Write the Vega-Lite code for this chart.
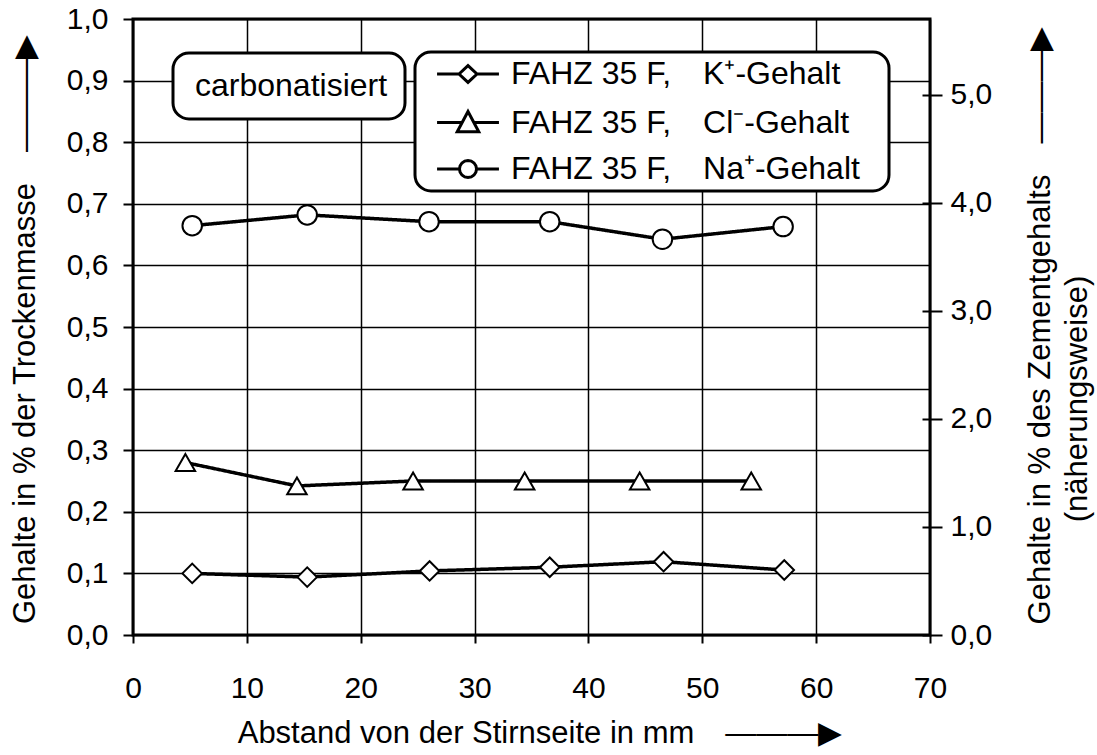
{
  "$schema": "https://vega.github.io/schema/vega-lite/v6.json",
  "width": 797,
  "height": 616,
  "autosize": {"type": "none"},
  "padding": {"left": 133, "top": 19, "right": 167, "bottom": 120},
  "background": "white",
  "config": {
    "font": "Liberation Sans",
    "view": {"stroke": "black", "strokeWidth": 3},
    "axis": {
      "labelFont": "Liberation Sans", "titleFont": "Liberation Sans",
      "labelColor": "black", "titleColor": "black",
      "labelFontSize": 30, "titleFontSize": 31, "titleFontWeight": "normal",
      "tickColor": "black", "tickWidth": 2,
      "gridColor": "black", "gridOpacity": 1, "gridWidth": 1.5,
      "domain": false, "labelFlush": false, "labelOverlap": false
    },
    "legend": {
      "labelFont": "Liberation Sans", "labelFontSize": 32, "labelColor": "black",
      "strokeColor": "black", "strokeWidth": 3, "fillColor": "white", "cornerRadius": 16, "labelLimit": 0
    }
  },
  "data": {
    "values": [
      {"reihe": "K", "zustand": "carbonatisiert", "abstand": 5.2, "wert": 0.100},
      {"reihe": "K", "zustand": "carbonatisiert", "abstand": 15.3, "wert": 0.094},
      {"reihe": "K", "zustand": "carbonatisiert", "abstand": 26.05, "wert": 0.104},
      {"reihe": "K", "zustand": "carbonatisiert", "abstand": 36.6, "wert": 0.110},
      {"reihe": "K", "zustand": "carbonatisiert", "abstand": 46.6, "wert": 0.119},
      {"reihe": "K", "zustand": "carbonatisiert", "abstand": 57.2, "wert": 0.1055},
      {"reihe": "Cl", "zustand": "carbonatisiert", "abstand": 4.6, "wert": 0.280},
      {"reihe": "Cl", "zustand": "carbonatisiert", "abstand": 14.4, "wert": 0.242},
      {"reihe": "Cl", "zustand": "carbonatisiert", "abstand": 24.6, "wert": 0.250},
      {"reihe": "Cl", "zustand": "carbonatisiert", "abstand": 34.4, "wert": 0.250},
      {"reihe": "Cl", "zustand": "carbonatisiert", "abstand": 44.5, "wert": 0.250},
      {"reihe": "Cl", "zustand": "carbonatisiert", "abstand": 54.3, "wert": 0.250},
      {"reihe": "Na", "zustand": "carbonatisiert", "abstand": 5.2, "wert": 0.6645},
      {"reihe": "Na", "zustand": "carbonatisiert", "abstand": 15.3, "wert": 0.682},
      {"reihe": "Na", "zustand": "carbonatisiert", "abstand": 26.0, "wert": 0.671},
      {"reihe": "Na", "zustand": "carbonatisiert", "abstand": 36.6, "wert": 0.671},
      {"reihe": "Na", "zustand": "carbonatisiert", "abstand": 46.5, "wert": 0.6425},
      {"reihe": "Na", "zustand": "carbonatisiert", "abstand": 57.1, "wert": 0.663}
    ]
  },
  "encoding": {
    "x": {
      "field": "abstand", "type": "quantitative",
      "scale": {"domain": [0, 70], "nice": false, "zero": true},
      "axis": {
        "values": [0, 10, 20, 30, 40, 50, 60, 70],
        "grid": true, "tickSize": 8, "labelPadding": 30,
        "title": "Abstand von der Stirnseite in mm\u2003———▶",
        "titleX": 406.5, "titleY": 98, "titleBaseline": "middle", "titleAlign": "center"
      }
    }
  },
  "layer": [
    {
      "encoding": {
        "y": {
          "field": "wert", "type": "quantitative",
          "scale": {"domain": [0, 1], "nice": false, "zero": true},
          "axis": {
            "orient": "left",
            "values": [0, 0.1, 0.2, 0.3, 0.4, 0.5, 0.6, 0.7, 0.8, 0.9, 1.0],
            "labelExpr": "replace(format(datum.value, '.1f'), '.', ',')",
            "grid": true, "tickSize": 10, "labelPadding": 15,
            "title": "Gehalte in % der Trockenmasse\u2003———▶",
            "titleAngle": 270, "titleX": -108, "titleY": 310,
            "titleBaseline": "middle", "titleAlign": "center"
          }
        }
      },
      "layer": [
        {
          "mark": {"type": "line", "color": "black", "strokeWidth": 3.5},
          "encoding": {
            "detail": {"field": "reihe", "type": "nominal"},
            "strokeDash": {
              "field": "zustand", "type": "nominal",
              "scale": {"range": [[1, 0]]},
              "legend": {
                "title": null, "orient": "none", "legendX": 40, "legendY": 34,
                "padding": 17, "symbolSize": 0, "symbolOpacity": 0, "symbolStrokeWidth": 0,
                "labelOffset": -27
              }
            }
          }
        },
        {
          "mark": {"type": "point", "filled": false, "color": "black", "fill": "white", "stroke": "black", "strokeWidth": 2, "size": 380, "opacity": 1},
          "encoding": {
            "shape": {
              "field": "reihe", "type": "nominal",
              "scale": {"domain": ["K", "Cl", "Na"], "range": ["diamond", "triangle-up", "circle"]},
              "legend": null
            }
          }
        },
        {
          "transform": [{"filter": "false"}],
          "mark": {"type": "point", "filled": false, "color": "black", "fill": "white", "stroke": "black", "strokeWidth": 3, "size": 784, "opacity": 1},
          "encoding": {
            "shape": {
              "field": "reihe", "type": "nominal",
              "scale": {
                "domain": ["K", "Cl", "Na"],
                "range": [
                  "M-2.21,0L-0.64,0M0.64,0L2.21,0M-0.64,0L0,-0.6L0.64,0L0,0.6Z",
                  "M-2.21,0L-0.42,0M0.42,0L2.21,0M0,-0.79L0.77,0.66L-0.77,0.66Z",
                  "M-2.21,0L-0.61,0M0.61,0L2.21,0M0.61,0L0.5636,0.2334L0.4313,0.4313L0.2334,0.5636L0,0.61L-0.2334,0.5636L-0.4313,0.4313L-0.5636,0.2334L-0.61,0L-0.5636,-0.2334L-0.4313,-0.4313L-0.2334,-0.5636L0,-0.61L0.2334,-0.5636L0.4313,-0.4313L0.5636,-0.2334Z"
                ]
              },
              "legend": {
                "title": null, "orient": "none", "legendX": 282, "legendY": 33,
                "padding": 6, "rowPadding": 14.5, "symbolSize": 784, "symbolStrokeWidth": 3,
                "symbolOffset": 31, "labelOffset": 27,
                "labelExpr": "datum.value === 'K' ? 'FAHZ 35 F,\u2003K⁺-Gehalt\u2800' : datum.value === 'Cl' ? 'FAHZ 35 F,\u2003Cl⁻-Gehalt\u2800' : 'FAHZ 35 F,\u2003Na⁺-Gehalt\u2800'"
              }
            }
          }
        }
      ],
      "resolve": {"scale": {"shape": "independent"}, "legend": {"shape": "independent"}}
    },
    {
      "mark": {"type": "point", "opacity": 0},
      "encoding": {
        "y": {
          "field": "wert", "type": "quantitative",
          "scale": {"domain": [0, 5.7], "nice": false, "zero": true},
          "axis": {
            "orient": "right",
            "values": [0, 1, 2, 3, 4, 5],
            "labelExpr": "replace(format(datum.value, '.1f'), '.', ',')",
            "grid": false, "offset": -8, "tickSize": 20, "labelPadding": 8,
            "title": ["Gehalte in % des Zementgehalts\u2003———▶", "(näherungsweise)\u2003\u2003\u2003\u2003\u2800"],
            "titleAngle": 270, "titleX": 118.5, "titleY": 306,
            "titleBaseline": "middle", "titleAlign": "center", "titleLineHeight": 37
          }
        }
      }
    }
  ],
  "resolve": {"scale": {"y": "independent"}}
}
